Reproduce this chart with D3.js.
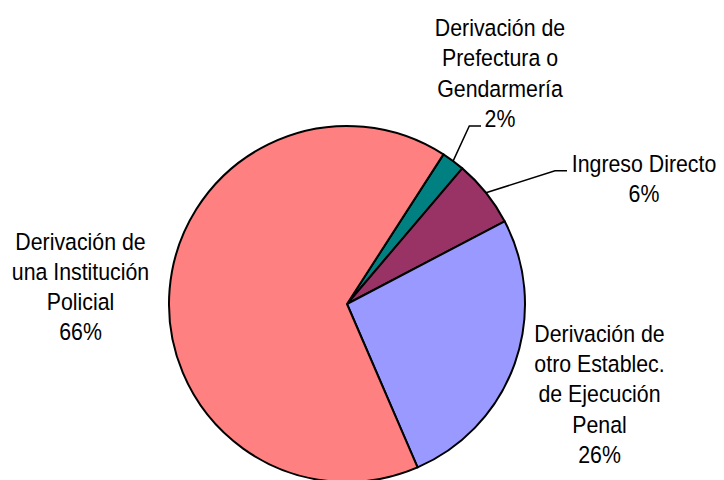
<!DOCTYPE html>
<html>
<head>
<meta charset="utf-8">
<script src="https://cdn.jsdelivr.net/npm/d3@7"></script>
<style>
html,body{margin:0;padding:0;background:#fff;}
svg{display:block;}
text{font-family:"Liberation Sans", Arial, sans-serif;fill:#000;}
</style>
</head>
<body>
<svg id="chart" width="724" height="480"></svg>
<script>
// Data
const categories = [
  "Derivación de Prefectura o Gendarmería",
  "Ingreso Directo",
  "Derivación de otro Establec. de Ejecución Penal",
  "Derivación de una Institución Policial"
];
const values = [2.1, 6.1, 26.2, 65.6];
const percentLabels = ["2%", "6%", "26%", "66%"];
const labelLines = [
  ["Derivación de", "Prefectura o", "Gendarmería"],
  ["Ingreso Directo"],
  ["Derivación de", "otro Establec.", "de Ejecución", "Penal"],
  ["Derivación de", "una Institución", "Policial"]
];
const colors = ["#008080", "#993366", "#9999FF", "#FF8080"];

const svg = d3.select("#chart");
const cx = 347, cy = 304, R = 178;
const start = 32.8 * Math.PI / 180;

const pie = d3.pie().sort(null).value(d => d).startAngle(start).endAngle(start + 2 * Math.PI);
const arcs = pie(values);
const arc = d3.arc().innerRadius(0).outerRadius(R);

const g = svg.append("g").attr("transform", `translate(${cx},${cy})`);
g.selectAll("path").data(arcs).enter().append("path")
  .attr("d", arc)
  .attr("fill", (d, i) => colors[i])
  .attr("stroke", "#000")
  .attr("stroke-width", 2)
  .attr("stroke-linejoin", "round");

// Label layout (positions)
const lineH = 30.3;
const labelPos = [
  {x: 500, y: 36},
  {x: 644, y: 171.7},
  {x: 599.5, y: 341.7},
  {x: 80.5, y: 249.5}
];
const sx = 0.87, fs = 24.5;

labelPos.forEach((p, i) => {
  const lines = labelLines[i].concat([percentLabels[i]]);
  const t = svg.append("g").attr("transform", `translate(${p.x},${p.y}) scale(${sx},1)`);
  lines.forEach((ln, j) => {
    t.append("text")
      .attr("x", 0).attr("y", j * lineH)
      .attr("text-anchor", "middle")
      .attr("font-size", fs)
      .text(ln);
  });
});

// Leader lines
function edgePoint(d, r) {
  const a = (d.startAngle + d.endAngle) / 2;
  return [cx + r * Math.sin(a), cy - r * Math.cos(a)];
}
const leaders = [
  {i: 0, elbow: [469.3, 126], end: [481, 126]},
  {i: 1, elbow: [555, 170.7], end: [567, 170.7]}
];
leaders.forEach(l => {
  const s = edgePoint(arcs[l.i], R);
  svg.append("polyline")
    .attr("points", [s, l.elbow, l.end].map(p => p.join(",")).join(" "))
    .attr("fill", "none")
    .attr("stroke", "#000")
    .attr("stroke-width", 1.5);
});
</script>
</body>
</html>
